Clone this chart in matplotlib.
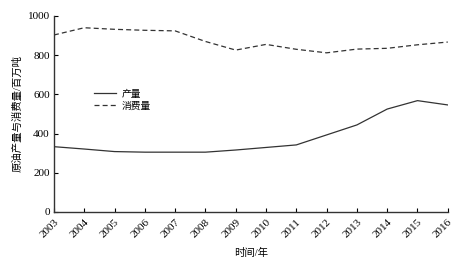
import numpy as np
import matplotlib.pyplot as plt

plt.rcParams['font.family'] = ['Liberation Serif', 'Noto Sans CJK SC']

years = list(range(2003, 2017))
production = [333, 321, 308, 305, 305, 305, 316, 329, 342, 393, 444, 525, 568, 546]
consumption = [903, 940, 932, 927, 924, 870, 826, 855, 830, 812, 831, 835, 853, 867]

fig = plt.figure(figsize=(4.65, 2.71), dpi=100)
ax = fig.add_axes([0.116, 0.218, 0.847, 0.723])

ax.plot(years, production, color='#333333', lw=0.9, label='产量')
ax.plot(years, consumption, color='#333333', lw=0.9, ls=(0, (4, 2.5)), label='消费量')

ax.set_xlim(2003, 2016)
ax.set_ylim(0, 1000)
ax.set_xticks(years)
ax.set_xticklabels([str(y) for y in years], rotation=45, ha='right', va='top',
                   rotation_mode='anchor', fontsize=8)
ax.set_yticks([0, 200, 400, 600, 800, 1000])
ax.tick_params(axis='y', labelsize=8, direction='in', length=3, width=0.8, pad=3)
ax.tick_params(axis='x', direction='in', length=3, width=0.8, pad=4)
for s in ['top', 'right']:
    ax.spines[s].set_visible(False)
for s in ['left', 'bottom']:
    ax.spines[s].set_linewidth(1.0)
    ax.spines[s].set_color('#333333')

ax.set_ylabel('原油产量与消费量/百万吨', fontsize=7.5, labelpad=4)
ax.set_xlabel('时间/年', fontsize=7.5, labelpad=6)

ax.legend(loc='upper left', bbox_to_anchor=(0.08, 0.67), frameon=False,
          fontsize=7, handlelength=2.2, handletextpad=0.6, labelspacing=0.3)

fig.savefig('out.png', dpi=100)
